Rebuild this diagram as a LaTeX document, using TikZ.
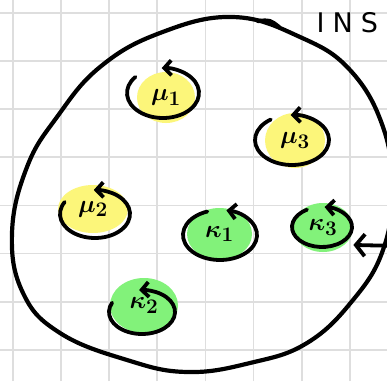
\documentclass[tikz,border=0pt]{standalone}
\usepackage{fontspec}
\newfontfamily\insfont[LetterSpace=30]{DejaVu Sans}
\usepackage{xcolor}
\definecolor{spinyellow}{RGB}{252,246,122}
\definecolor{spingreen}{RGB}{130,242,122}
\definecolor{gridgray}{RGB}{222,222,222}
\usepackage{tikz}
\usetikzlibrary{shapes.geometric, arrows.meta}

\begin{document}
\begin{tikzpicture}[x=1pt, y=1pt,
  gridline/.style={draw=gridgray, line width=1.8pt},
  sample/.style={draw=black, line width=4.2pt, line cap=round, line join=round},
  muspin/.style={ellipse, fill=spinyellow, inner sep=0pt,
                 font=\fontsize{30}{34}\selectfont\boldmath},
  kspin/.style={ellipse, fill=spingreen, inner sep=0pt,
                font=\fontsize{30}{34}\selectfont\boldmath},
  spin/.style={draw=black, line width=3.8pt, line cap=round,
               -{Straight Barb[length=7pt, width=15pt, line width=3.8pt]}},
  beam/.style={draw=black, line width=3.8pt, line cap=round,
               -{Straight Barb[length=9pt, width=22pt, line width=3.8pt]}}
]
\useasboundingbox (0,0) rectangle (387,381);
\fill[white] (0,0) rectangle (387,381);

% Grid paper
\foreach \k in {0,...,7} {
  \draw[gridline] (13+48.1*\k,0) -- ++(0,381);
  \draw[gridline] (0,368-48.1*\k) -- ++(387,0);
}

% Sample outline
\draw[sample] plot[smooth cycle, tension=0.7] coordinates {
  (233,364) (300,344) (350,311) (383,254) (392,191) (383,131) (353,81)
  (307,38) (250,18) (187,9) (127,21) (60,48) (23,88) (12,148) (27,214)
  (57,264) (100,314) (160,348)};
\draw[sample] (258,360) .. controls (270,361) .. (279,354);

% Moments
\node[muspin, minimum width=58, minimum height=51] (mu1) at (166,283.5) {$\mu_1$};
\node[muspin, minimum width=60, minimum height=55] (mu3) at (295,240.5) {$\mu_3$};
\node[muspin, minimum width=70, minimum height=48] (mu2) at (93,172)    {$\mu_2$};
\node[kspin,  minimum width=65, minimum height=52] (k1)  at (219.5,147) {$\kappa_1$};
\node[kspin,  minimum width=60, minimum height=49] (k3)  at (323,153.5) {$\kappa_3$};
\node[kspin,  minimum width=68, minimum height=55] (k2)  at (144,75.5)  {$\kappa_2$};

% Rotation arrows
\draw[spin] ([shift={(-3,4.5)}]mu1.center) ++(140:36 and 25)
  arc[start angle=140, end angle=452, x radius=36, y radius=25];
\draw[spin] ([shift={(-3,0.5)}]mu3.center) ++(125:37 and 25)
  arc[start angle=125, end angle=452, x radius=37, y radius=25];
\draw[spin] ([shift={(2,-5)}]mu2.center) ++(150:35 and 24)
  arc[start angle=150, end angle=452, x radius=35, y radius=24];
\draw[spin] ([shift={(0.5,-1)}]k1.center) ++(110:37 and 25)
  arc[start angle=110, end angle=440, x radius=37, y radius=25];
\draw[spin] ([shift={(-1,0.5)}]k3.center) ++(120:30 and 20)
  arc[start angle=120, end angle=445, x radius=30, y radius=20];
\draw[spin] ([shift={(-2,-6.5)}]k2.center) ++(155:33 and 22)
  arc[start angle=155, end angle=455, x radius=33, y radius=22];

% Beam
\node[font=\insfont\fontsize{27}{30}\selectfont, anchor=west] (ins) at (313,358) {INS};
\coordinate (beamsrc) at (400,135);
\draw[beam] (beamsrc) -- ([xshift=9pt]k3.south east);

\end{tikzpicture}
\end{document}
